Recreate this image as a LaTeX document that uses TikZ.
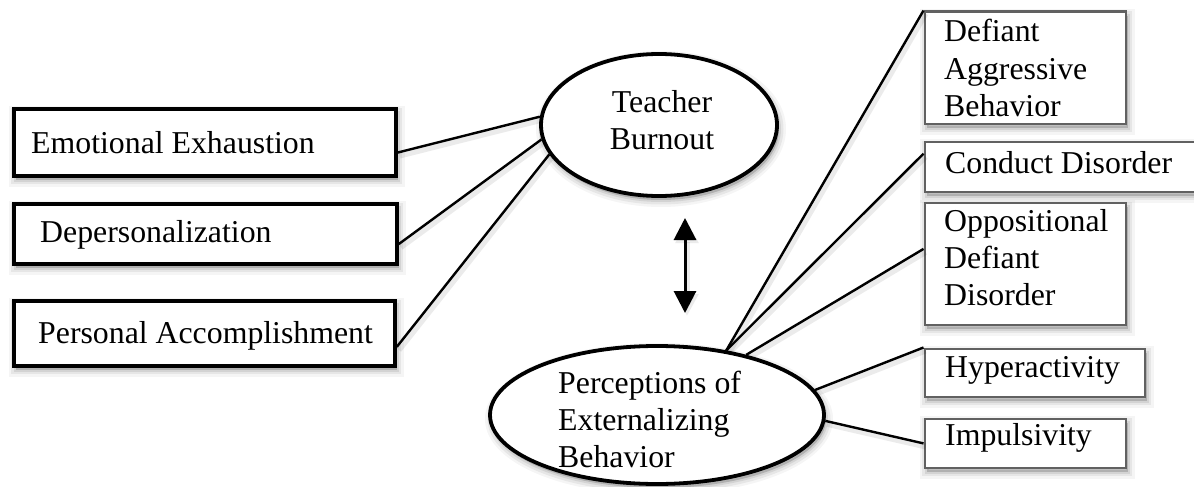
\documentclass[tikz,border=0pt]{standalone}
\usepackage{fontspec}
\setmainfont{Liberation Serif}
\usetikzlibrary{shapes.geometric,arrows.meta,calc}
\begin{document}
\begin{tikzpicture}[x=1pt,y=-1pt,
  every node/.style={font=\fontsize{31.8pt}{37pt}\selectfont, inner sep=0pt},
  % soft drop shadow below and to the right of a shape
  softshadow/.style={
    preaction={draw=black,fill=black,opacity=0.04,line width=14pt,transform canvas={xshift=2pt,yshift=-4pt}},
    preaction={draw=black,fill=black,opacity=0.06,line width=9pt,transform canvas={xshift=2pt,yshift=-4pt}},
    preaction={draw=black,fill=black,opacity=0.08,line width=4pt,transform canvas={xshift=2pt,yshift=-4pt}}},
  linkshadow/.style={preaction={draw=black,opacity=0.08,line width=6pt,transform canvas={xshift=2pt,yshift=-3pt}}},
  leftbox/.style={draw=black,line width=3.8pt,fill=white,anchor=north west,softshadow},
  rightbox/.style={draw=black!62,line width=2.8pt,fill=white,anchor=north west,softshadow},
  concept/.style={ellipse,draw=black,line width=3.8pt,fill=white,softshadow},
  boxtext/.style={anchor=base west},
  link/.style={draw=black,line width=2.4pt,linkshadow},
  twohead/.style={line width=3pt,{Triangle[width=22pt,length=22pt]}-{Triangle[width=22pt,length=22pt]},linkshadow},
]
\useasboundingbox (0,0) rectangle (1194,487);
\clip (0,0) rectangle (1194,487);
\fill[white] (0,0) rectangle (1194,487);

% burnout dimensions
\node[leftbox, minimum width=382pt, minimum height=67pt] (ee)  at (12,107) {};
\node[leftbox, minimum width=383pt, minimum height=60pt] (dep) at (12,202) {};
\node[leftbox, minimum width=381pt, minimum height=65pt] (pa)  at (12,299) {};
\node[boxtext] (eetxt)  at (31,153) {Emotional Exhaustion};
\node[boxtext] (deptxt) at (40,242) {Depersonalization};
\node[boxtext] (patxt)  at (38,343) {Personal Accomplishment};

% central constructs
\node[concept, minimum width=236pt, minimum height=142pt] (tb)  at (659,125) {};
\node[concept, minimum width=334pt, minimum height=138pt] (peb) at (657,415) {};
\node[anchor=base] (tbtxt) at (662,112) {\begin{tabular}[t]{@{}c@{}}Teacher\\Burnout\end{tabular}};

% externalizing behaviours
\node[rightbox, minimum width=201pt, minimum height=112pt] (dab) at (923.5,10.5) {};
\node[rightbox, minimum width=300pt, minimum height=50pt]  (cd)  at (923.5,140.5) {};
\node[rightbox, minimum width=201pt, minimum height=122pt] (opp) at (923.5,201.5) {};
\node[rightbox, minimum width=220pt, minimum height=48pt]  (hyp) at (923.5,347.5) {};
\node[rightbox, minimum width=201pt, minimum height=49pt]  (imp) at (923.5,417.5) {};
\node[boxtext] (dabtxt) at (944,42) {\begin{tabular}[t]{@{}l@{}}Defiant\\Aggressive\\Behavior\end{tabular}};
\node[boxtext] (cdtxt)  at (945,173) {Conduct Disorder};
\node[boxtext] (opptxt) at (944,231) {\begin{tabular}[t]{@{}l@{}}Oppositional\\Defiant\\Disorder\end{tabular}};
\node[boxtext] (hyptxt) at (945,377) {Hyperactivity};
\node[boxtext] (imptxt) at (945,445) {Impulsivity};

% connectors
\draw[link] (ee.-3.4) -- (tb.176.7);
\draw[link] (dep.-3.8) -- (tb.187.3);
\draw[link] (pa.-4) -- (tb.195.9);

\draw[link] (peb.43.3) -- (dab.north west);
\draw[link] (peb.43.3) -- ($(cd.north west)!0.25!(cd.south west)$);
\draw[link] (peb.34.3) -- ($(opp.north west)!0.38!(opp.south west)$);
\draw[link] (peb.9.2) -- (hyp.north west);
\draw[link] (peb.-2.4) -- (imp.west);

\node[boxtext] (pebtxt) at (558,393) {\begin{tabular}[t]{@{}l@{}}Perceptions of\\Externalizing\\Behavior\end{tabular}};

% reciprocal relation
\coordinate (up) at (685,218);
\coordinate (down) at (685,313);
\draw[twohead] (up) -- (down);
\end{tikzpicture}
\end{document}
